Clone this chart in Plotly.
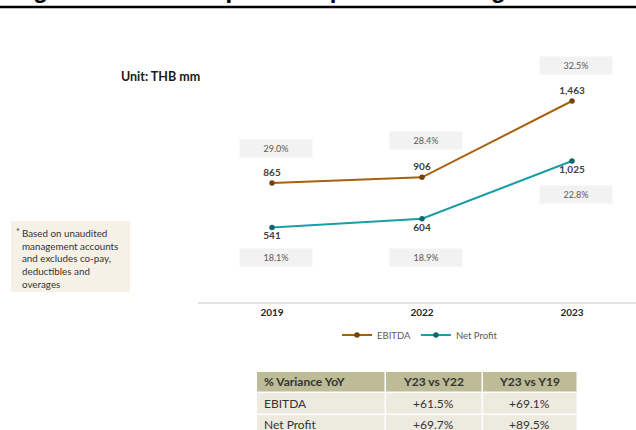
import plotly.graph_objects as go

W, H = 636, 430
FONT = "Lato, 'Open Sans', sans-serif"

years = ["2019", "2022", "2023"]
ebitda = [865, 906, 1463]
net_profit = [541, 604, 1025]
ebitda_margin = ["29.0%", "28.4%", "32.5%"]
np_margin = ["18.1%", "18.9%", "22.8%"]

table_header = ["% Variance YoY", "Y23 vs Y22", "Y23 vs Y19"]
table_rows = [
    ["EBITDA", "+61.5%", "+69.1%"],
    ["Net Profit", "+69.7%", "+89.5%"],
]

note_lines = ["Based on unaudited", "management accounts", "and excludes co-pay,",
              "deductibles and", "overages"]

EBITDA_COLOR = "#a8610f"
NP_COLOR = "#1a9ea6"


def py(px):
    # pixel from top -> paper fraction
    return 1 - px / H


def px_x(px):
    return px / W


fig = go.Figure()
fig.add_trace(go.Scatter(
    x=list(range(len(years))), y=ebitda, name="EBITDA", mode="lines+markers+text",
    line=dict(color=EBITDA_COLOR, width=2),
    marker=dict(size=5.5, color="#7a4208"),
    text=[f"{v:,}" for v in ebitda], textposition="top center",
    textfont=dict(family=FONT, size=10, color="#404040", weight="bold"),
))
fig.add_trace(go.Scatter(
    x=list(range(len(years))), y=net_profit, name="Net Profit", mode="lines+markers+text",
    line=dict(color=NP_COLOR, width=2),
    marker=dict(size=5.5, color="#0e6a70"),
    text=[f"{v:,}" for v in net_profit], textposition="bottom center",
    textfont=dict(family=FONT, size=10, color="#404040", weight="bold"),
))

# margin boxes
ebitda_shift = [34, 37, 35]
np_shift = [-30, -39, -33]
for i, m in enumerate(ebitda_margin):
    fig.add_annotation(x=i, y=ebitda[i], xref="x", yref="y", text=m, showarrow=False,
                       xshift=4, yshift=ebitda_shift[i], width=70, height=15,
                       bgcolor="#f2f2f2", font=dict(family=FONT, size=9, color="#595959"))
for i, m in enumerate(np_margin):
    fig.add_annotation(x=i, y=net_profit[i], xref="x", yref="y", text=m, showarrow=False,
                       xshift=4, yshift=np_shift[i], width=70, height=15,
                       bgcolor="#f2f2f2", font=dict(family=FONT, size=9, color="#595959"))

shapes = []
# top rule
shapes.append(dict(type="line", xref="paper", yref="paper", x0=0, x1=1, y0=py(7), y1=py(7),
                   line=dict(color="black", width=2.5)))
# footnote box
shapes.append(dict(type="rect", xref="paper", yref="paper", x0=px_x(11), x1=px_x(130),
                   y0=py(292), y1=py(221), fillcolor="#f6f1e7", line=dict(width=0), layer="below"))

# table
col_x = [257, 386, 483, 578]
row_y = [372, 393, 415, 436]
for r in range(3):
    fill = "#bdbc97" if r == 0 else "#edeae0"
    for c in range(3):
        shapes.append(dict(type="rect", xref="paper", yref="paper",
                           x0=px_x(col_x[c]), x1=px_x(col_x[c + 1] - 1.5),
                           y0=py(row_y[r + 1] - 1.5), y1=py(row_y[r]),
                           fillcolor=fill, line=dict(width=0), layer="below"))
all_rows = [table_header] + table_rows
for r, row in enumerate(all_rows):
    yc = py((row_y[r] + row_y[r + 1] - 1.5) / 2)
    for c, cell in enumerate(row):
        bold = r == 0
        if c == 0:
            fig.add_annotation(x=px_x(col_x[0] + 5), y=yc, xref="paper", yref="paper",
                               text=cell, showarrow=False, xanchor="left", yanchor="middle",
                               font=dict(family=FONT, size=12, color="#333333",
                                         weight="bold" if bold else "normal"))
        else:
            fig.add_annotation(x=px_x((col_x[c] + col_x[c + 1] - 1.5) / 2), y=yc,
                               xref="paper", yref="paper", text=cell, showarrow=False,
                               xanchor="center", yanchor="middle",
                               font=dict(family=FONT, size=12, color="#333333",
                                         weight="bold" if bold else "normal"))

# title (cut off at the top, as in the source)
fig.add_annotation(x=px_x(10), y=py(5), xref="paper", yref="paper", xanchor="left", yanchor="bottom",
                   text="<b>Figure 11: Insured patients' profit and margin</b>", showarrow=False,
                   font=dict(family="Liberation Sans, Arial", size=24, color="black"))
fig.add_annotation(x=px_x(119), y=py(77), xref="paper", yref="paper", xanchor="left", yanchor="middle",
                   text="<b>Unit: THB mm</b>", showarrow=False,
                   font=dict(family=FONT, size=12.5, color="#1a1a1a"))

# footnote
fig.add_annotation(x=px_x(14), y=py(224), xref="paper", yref="paper", xanchor="left", yanchor="top",
                   text="*", showarrow=False, font=dict(family=FONT, size=9, color="#333333"))
fig.add_annotation(x=px_x(20), y=py(225), xref="paper", yref="paper", xanchor="left", yanchor="top",
                   text="<br>".join(note_lines), showarrow=False, align="left",
                   font=dict(family=FONT, size=9.8, color="#333333"))

fig.update_layout(
    width=W, height=H,
    margin=dict(l=0, r=0, t=0, b=0),
    paper_bgcolor="white", plot_bgcolor="white",
    shapes=shapes,
    showlegend=True,
    legend=dict(orientation="h", x=px_x(420), xanchor="center", y=py(335), yanchor="middle",
                font=dict(family=FONT, size=9.5, color="#595959"), itemwidth=30,
                bgcolor="rgba(0,0,0,0)"),
    xaxis=dict(domain=[px_x(198), 1], range=[-74 / 150, 2 + 64 / 150],
               tickvals=list(range(len(years))), ticktext=[f"<b>{y}</b>" for y in years],
               showgrid=False, zeroline=False, showline=True, linecolor="#e3e3e3", linewidth=2,
               ticks="", tickfont=dict(family=FONT, size=10, color="#262626")),
    yaxis=dict(domain=[py(301.6), py(40)], range=[0, (301.6 - 40) / (82 / 598)],
               visible=False, showgrid=False, zeroline=False),
)

# the page's default body margin would push the figure 8px in; drop it
fig.write_html("out.html", config={"displayModeBar": False},
               post_script="document.body.style.margin='0';")
